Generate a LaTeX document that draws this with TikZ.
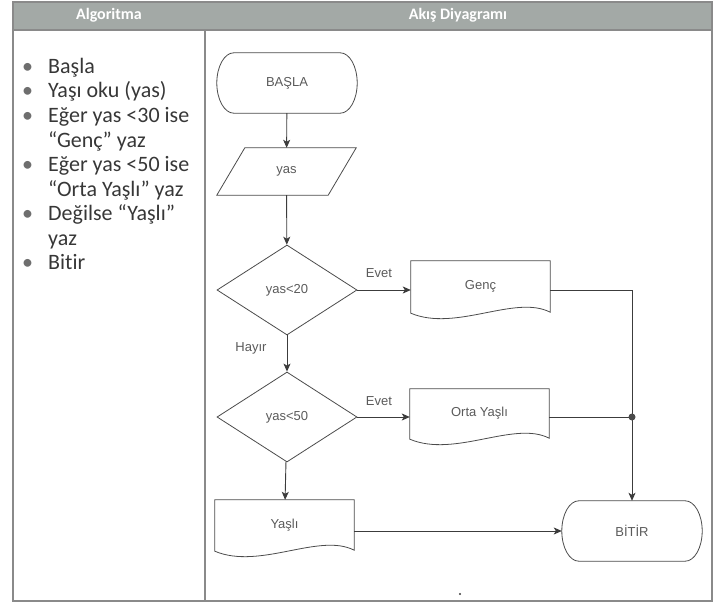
\documentclass[tikz,border=0pt]{standalone}
\usepackage{fontspec}
\setmainfont{Carlito}[Ligatures=NoCommon]
\newfontfamily\arialf{Liberation Sans}
\usetikzlibrary{arrows.meta,calc,shapes.geometric}

\definecolor{hdr}{RGB}{163,169,166}
\definecolor{frm}{RGB}{138,138,138}
\definecolor{ln}{RGB}{60,60,60}
\definecolor{shp}{RGB}{75,75,75}
\definecolor{ftxt}{RGB}{90,90,90}
\definecolor{ltxt}{RGB}{55,55,55}
\definecolor{bul}{RGB}{110,110,110}

\tikzset{
  fc/.style={font=\arialf\fontsize{13}{15}\selectfont, text=ftxt},
  box/.style={fc, draw=none, inner sep=0pt, minimum width=139pt},
  termbox/.style={fc, draw=none, inner sep=0pt, minimum width=140pt, minimum height=60pt},
  decision/.style={fc, diamond, draw=shp, line width=0.8pt, inner sep=0pt,
                   minimum width=140pt, minimum height=90pt},
  conn/.style={draw=ln, line width=0.9pt},
  arr/.style={conn, -{Stealth[length=8pt,width=7pt,inset=2pt]}},
  outline/.style={draw=shp, line width=0.8pt},
  lbl/.style={fc},
  item/.style={anchor=base west, inner sep=0pt, font=\fontsize{22}{24}\selectfont, text=ltxt},
  hdrtext/.style={font=\bfseries\fontsize{16}{18}\selectfont, text=white},
  frame/.style={draw=frm, line width=1.5pt},
}

\newcommand\termpath[1]{%
  \draw[outline] ($(#1.north west)+(17,0)$) -- ($(#1.north east)+(-17,0)$)
    .. controls ($(#1.north east)+(-7.6,0)$) and ($(#1.east)+(0,-16.6)$) .. (#1.east)
    .. controls ($(#1.east)+(0,16.6)$) and ($(#1.south east)+(-7.6,0)$) .. ($(#1.south east)+(-17,0)$)
    -- ($(#1.south west)+(17,0)$)
    .. controls ($(#1.south west)+(7.6,0)$) and ($(#1.west)+(0,16.6)$) .. (#1.west)
    .. controls ($(#1.west)+(0,-16.6)$) and ($(#1.north west)+(7.6,0)$) .. cycle;}

\newcommand\docpath[1]{%
  \draw[outline] ($(#1.south west)+(0,1)$) -- (#1.north west) -- (#1.north east) -- (#1.south east)
    .. controls ($(#1.south east)+(-35,-18)$) and ($(#1.south west)+(45,20)$) .. ($(#1.south west)+(0,1)$) -- cycle;}

\newcommand\bulletmark{\makebox[0pt][r]{\textcolor{bul}{\textbullet}\hspace{15pt}}}

\begin{document}
\begin{tikzpicture}[x=1pt,y=-1pt]
\useasboundingbox (0,0) rectangle (728,607);

% table frame and header
\fill[hdr] (13,2) rectangle (712,30);
\draw[frame] (13,2) rectangle (712,601);
\draw[frame] (205,30) -- (205,601);
\draw[frame] (13,30) -- (712,30);
\node[hdrtext] (h1) at (109,15) {Algoritma};
\node[hdrtext] (h2) at (458,15) {Akış Diyagramı};

% algorithm text
\node[item] (l1) at (48,73.5) {\bulletmark Başla};
\node[item] (l2) at (48,98) {\bulletmark Yaşı oku (yas)};
\node[item] (l3) at (48,122.5) {\bulletmark Eğer yas <30 ise};
\node[item] (l4) at (48,147) {“Genç” yaz};
\node[item] (l5) at (48,171.5) {\bulletmark Eğer yas <50 ise};
\node[item] (l6) at (48,196) {“Orta Yaşlı” yaz};
\node[item] (l7) at (48,220.5) {\bulletmark Değilse “Yaşlı”};
\node[item] (l8) at (48,245) {yaz};
\node[item] (l9) at (48,269.5) {\bulletmark Bitir};

% flowchart nodes
\node[termbox] (basla) at (287,83) {BAŞLA};
\termpath{basla}

\node[box, minimum height=47pt] (yas) at (286.5,171.5) {yas};
\draw[outline] ($(yas.north west)+(28,0)$) -- (yas.north east)
  -- ($(yas.south east)+(-28,0)$) -- (yas.south west) -- cycle;

\node[decision] (d1) at (287,290) {yas<20};
\node[decision] (d2) at (287,417) {yas<50};

\node[box, minimum height=51pt] (genc) at (480.5,286.5) {Genç};
\docpath{genc}
\node[box, minimum height=49pt] (orta) at (479.5,413.5) {Orta Yaşlı};
\docpath{orta}
\node[box, minimum height=50pt] (yasli) at (284.5,525) {Yaşlı};
\docpath{yasli}

\node[termbox] (bitir) at (632,531) {BİTİR};
\termpath{bitir}

% connectors
\draw[arr] (basla) -- (yas);
\draw[arr] (yas) -- (d1);
\draw[arr] (d1.east) -- (d1.east -| genc.west);
\draw[arr] (d1) -- (d2);
\draw[arr] (d2.east) -- (d2.east -| orta.west);
\draw[arr] (d2) -- (yasli);
\coordinate (j) at (bitir.north |- d2.east);
\draw[arr] (d1.east -| genc.east) -| (bitir.north);
\draw[conn] (d2.east -| orta.east) -- (j);
\fill[shp] (j) circle (3.5);
\draw[arr] (yasli.east |- bitir.west) -- (bitir.west);

% labels
\node[lbl] (e1) at (379,273) {Evet};
\node[lbl] (e2) at (379,401) {Evet};
\node[lbl] (hy) at (251,348) {Hayır};

% small mark on page
\fill[ln] (460,594) circle (1.2);
\end{tikzpicture}
\end{document}
